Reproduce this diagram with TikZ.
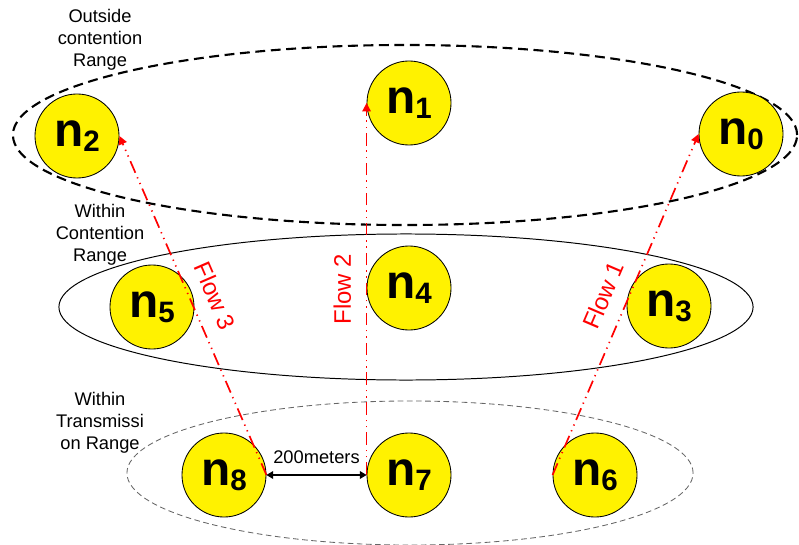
\documentclass[tikz,border=0pt]{standalone}
\usepackage{fontspec}
\setmainfont{Liberation Sans}
\usetikzlibrary{arrows.meta}

\newcommand{\nlab}[1]{{\fontsize{34}{34}\selectfont\bfseries n\raisebox{-3.5pt}{\fontsize{21}{21}\selectfont #1}}}

\begin{document}
\begin{tikzpicture}[x=0.025cm,y=-0.025cm,>=Triangle,
  station/.style={circle,draw=black,line width=0.6pt,fill=yellow,minimum size=2.1cm,inner sep=0pt},
  rangelabel/.style={align=center,font=\fontsize{13}{15.6}\selectfont},
  flow/.style={draw=red,line width=1.2pt,dash pattern=on 9pt off 3.5pt on 0.9pt off 3.5pt on 0.9pt off 3.5pt,-{Triangle[length=6pt,width=6pt]}},
  flowlabel/.style={sloped,above=7pt,pos=0.5,text=red,font=\fontsize{17}{17}\selectfont}]
\useasboundingbox (0,0) rectangle (799,544);

% ranges
\draw[line width=1.5pt,dash pattern=on 7pt off 4pt] (405,135) ellipse [x radius=9.8cm,y radius=2.25cm];
\draw[line width=0.7pt] (406,307) ellipse [x radius=8.675cm,y radius=1.825cm];
\draw[black!60,line width=0.6pt,dash pattern=on 4pt off 2.5pt] (410,473) ellipse [x radius=7.075cm,y radius=1.8cm];

\node[rangelabel] (outside) at (100,40) {Outside\\contention\\Range};
\node[rangelabel] (within) at (100,235) {Within\\Contention\\Range};
\node[rangelabel] (trans) at (100,423) {Within\\Transmissi\\on Range};

% stations
\node[station] (n0) at (741,134) {\nlab{0}};
\node[station] (n1) at (409,103) {\nlab{1}};
\node[station] (n2) at (77,136) {\nlab{2}};
\node[station] (n3) at (669,306) {\nlab{3}};
\node[station] (n4) at (409,288) {\nlab{4}};
\node[station] (n5) at (152,307) {\nlab{5}};
\node[station] (n6) at (595,475) {\nlab{6}};
\node[station] (n7) at (409,475) {\nlab{7}};
\node[station] (n8) at (224,475) {\nlab{8}};

% flows
\draw[flow] (n6.west) -- node[flowlabel] {Flow 1} (n0.west);
\draw[flow] (n7.west) -- node[flowlabel] {Flow 2} (n1.west);
\draw[flow] (n8.east) -- node[flowlabel] {Flow 3} (n2.east);

\draw[<->,line width=0.8pt] (n8.east) -- node[above=4pt,font=\fontsize{13}{13}\selectfont] {200meters} (n7.west);
\end{tikzpicture}
\end{document}
